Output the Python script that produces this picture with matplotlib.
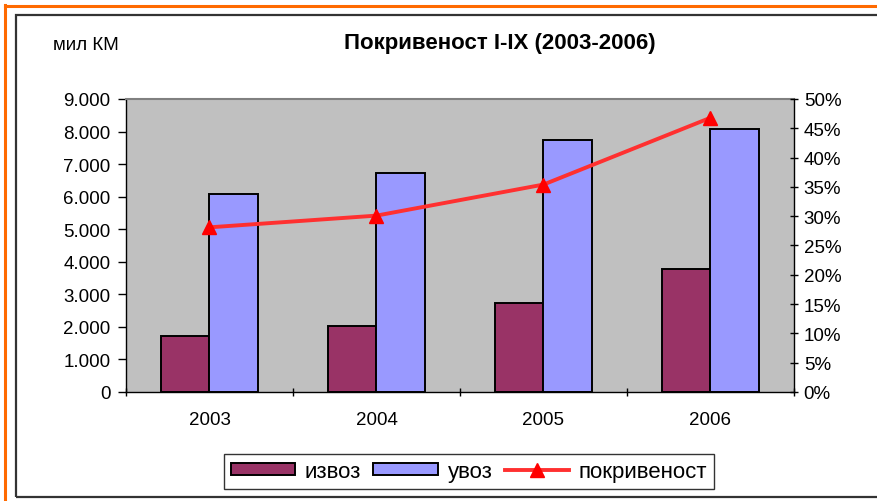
import matplotlib.pyplot as plt
from matplotlib.patches import Rectangle
from matplotlib.lines import Line2D
import numpy as np

plt.rcParams['font.family'] = ['Liberation Sans', 'DejaVu Sans']

years = ['2003', '2004', '2005', '2006']
izvoz = [1710, 2020, 2740, 3790]
uvoz = [6080, 6720, 7730, 8090]
pokrivenost = [28.1, 30.1, 35.4, 46.8]

W, H = 878, 502
fig = plt.figure(figsize=(W / 100, H / 100), dpi=100)

# outer frames (orange page frame, black chart frame)
fig.add_artist(Line2D([5.5 / W, 5.5 / W], [0, 1 - 6 / H], color='#FF6A00', lw=2.2, transform=fig.transFigure))
fig.add_artist(Line2D([5.5 / W, 1], [1 - 6.5 / H, 1 - 6.5 / H], color='#FF6A00', lw=2.2, transform=fig.transFigure))
fig.add_artist(Rectangle((16 / W, 1 - 498 / H), 1, (498 - 16) / H, fill=False, ec='#333333', lw=1.6,
                         transform=fig.transFigure))

ax = fig.add_axes([126 / W, 1 - 393 / H, 668 / W, 293 / H])
ax.set_facecolor('#C0C0C0')
x = np.arange(len(years))
bw = 0.29
ax.bar(x - bw / 2, izvoz, bw, color='#993366', edgecolor='black', lw=1.4, label='извоз', zorder=2)
ax.bar(x + bw / 2, uvoz, bw, color='#9999FF', edgecolor='black', lw=1.4, label='увоз', zorder=2)
ax.set_xlim(-0.5, 3.5)
ax.set_ylim(0, 9000)
ax.set_yticks(np.arange(0, 9001, 1000))
ax.set_yticklabels(['0'] + [f'{v // 1000}.000' for v in range(1000, 9001, 1000)])
ax.set_xticks(x)
ax.set_xticklabels(years)
ax.set_xticks(np.arange(-0.5, 4, 1), minor=True)
ax.tick_params(axis='x', which='major', length=0, pad=14, labelsize=13.5)
ax.tick_params(axis='x', which='minor', length=6, direction='inout', width=1)
ax.tick_params(axis='y', length=6, direction='out', width=1, labelsize=13.5, pad=5)
ax.spines['right'].set_visible(False)
ax.spines['top'].set_color('#808080')
ax.spines['top'].set_linewidth(1.5)
ax.spines['left'].set_linewidth(1)
ax.spines['bottom'].set_linewidth(1)

ax2 = ax.twinx()
ax2.plot(x, pokrivenost, color='#FF3030', lw=2.8, marker='^', ms=10, mfc='red', mec='red',
         label='покривеност', zorder=3)
ax2.set_ylim(0, 50)
ax2.set_yticks(np.arange(0, 51, 5))
ax2.set_yticklabels([f'{v}%' for v in range(0, 51, 5)])
ax2.tick_params(axis='y', length=6, direction='inout', width=1, labelsize=13.5, pad=4)
for s in ['top', 'left', 'bottom']:
    ax2.spines[s].set_visible(False)
ax2.spines['right'].set_linewidth(1)

fig.text(53 / W, 1 - 46 / H, 'мил КМ', fontsize=13.5, va='center', ha='left')
fig.text(500 / W, 1 - 44 / H, 'Покривеност I-IX (2003-2006)', fontsize=16, fontweight='bold',
         va='center', ha='center')

h1, l1 = ax.get_legend_handles_labels()
h2, l2 = ax2.get_legend_handles_labels()
leg = fig.legend(h1 + h2, l1 + l2, loc='center', bbox_to_anchor=(469 / W, 1 - 472.5 / H), ncol=3,
                 frameon=True, fancybox=False, edgecolor='black', fontsize=16, handlelength=2.9,
                 handleheight=0.48, handletextpad=0.43, columnspacing=0.55, borderpad=0.3)
leg.get_frame().set_linewidth(1)

fig.savefig('out.png', dpi=100)
